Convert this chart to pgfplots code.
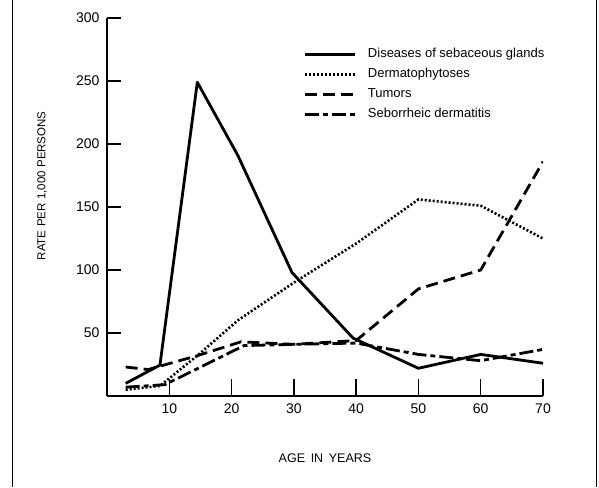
\documentclass[border=0pt]{standalone}
\usepackage{pgfplots}
\pgfplotsset{compat=1.18}
\usepackage{fontspec}
\setmainfont{Liberation Sans}
\begin{document}
\begin{tikzpicture}[x=1pt,y=1pt]
\begin{axis}[
  at={(107pt,91pt)}, anchor=south west,
  scale only axis, width=436pt, height=378pt,
  xmin=0, xmax=70, ymin=0, ymax=300,
  axis lines=left, axis line style={line width=1.8pt, -},
  xtick={10,20,30,40,50,60,70}, ytick={50,100,150,200,250,300},
  tick align=inside,
  major tick length=14pt,
  tick style={line width=1.5pt, black},
  x tick style={/pgfplots/major tick length=17pt},
  /pgf/number format/assume math mode=true,
  tick label style={font=\fontsize{14}{16}\selectfont},
  yticklabel style={xshift=-4pt},
  xticklabel style={yshift=-4pt},
  xlabel={AGE\hspace{0.45em}IN\hspace{0.45em}YEARS},
  ylabel={RATE\hspace{0.3em}PER\hspace{0.3em}1,000\hspace{0.3em}PERSONS},
  xlabel style={at={(axis description cs:0.5,-0.164)}, anchor=center, font=\fontsize{12.5}{14}\selectfont},
  ylabel style={at={(axis description cs:-0.149,0.556)}, anchor=center, font=\fontsize{11.5}{13}\selectfont},
  legend image code/.code={\draw[#1] (0pt,0pt) -- (50pt,0pt);},
  legend cell align=left,
  legend style={draw=none, fill=none, inner sep=0pt,
    at={(axis description cs:0.4495,0.921)}, anchor=north west,
    font=\fontsize{13}{15}\selectfont,
    nodes={inner sep=0pt, text height=9.5pt, text depth=3pt},
    row sep=7.5pt,
    /tikz/every odd column/.append style={column sep=12pt}},
]
\addplot[black, line width=2.8pt, line join=round] coordinates {
  (3,10) (8.5,24.5) (14.5,249) (21,191) (29.7,98) (39.5,46) (50,22) (60,33) (70,26)};
\addlegendentry{Diseases of sebaceous glands}
\addplot[black, line width=2.6pt, dash pattern=on 2pt off 2pt] coordinates {
  (3,5) (8.5,8) (14.5,32) (21,60) (30,90) (40,121) (50,156) (60,151) (70,125)};
\addlegendentry{Dermatophytoses}
\addplot[black, line width=2.8pt, dash pattern=on 12pt off 6pt] coordinates {
  (3,23) (6.6,21) (14.5,32) (21.5,43) (30,41) (40,44) (50,85) (60,100) (70,186)};
\addlegendentry{Tumors}
\addplot[black, line width=2.8pt, dash pattern=on 14pt off 4pt on 5pt off 4pt] coordinates {
  (3,7) (9.3,9) (22,40) (30,41) (40,42) (50,33) (60,28) (70,37)};
\addlegendentry{Seborrheic dermatitis}
\end{axis}
\draw[line width=1.3pt] (12.5pt,0pt) -- (12.5pt,487pt);
\draw[line width=1pt] (596pt,0pt) -- (596pt,487pt);
\pgfresetboundingbox
\path[use as bounding box] (0pt,0pt) rectangle (599pt,487pt);
\end{tikzpicture}
\end{document}
